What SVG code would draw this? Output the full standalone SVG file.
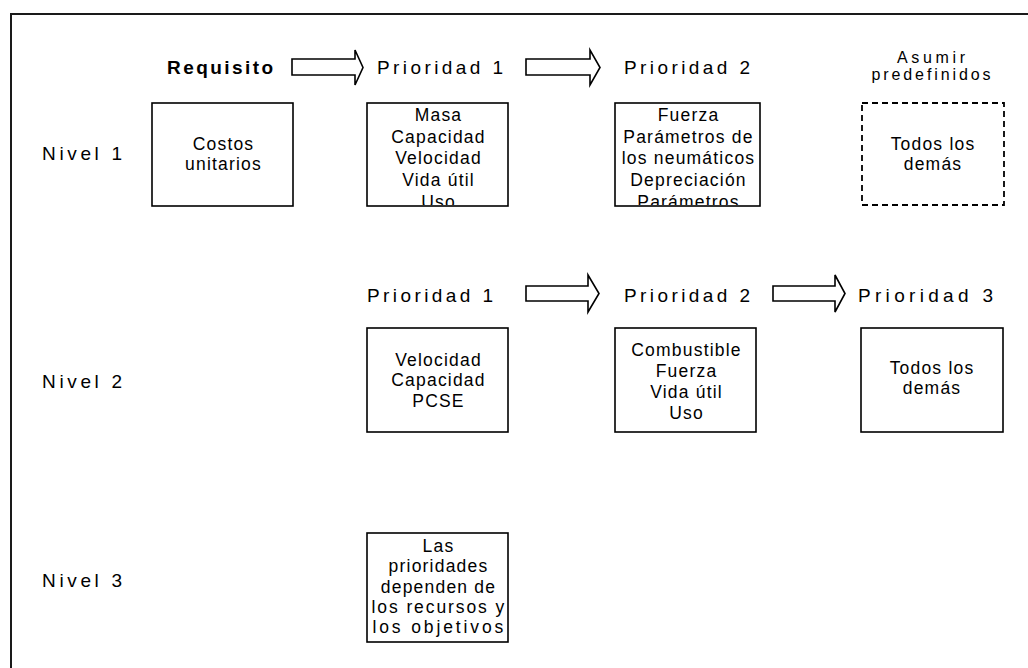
<svg xmlns="http://www.w3.org/2000/svg" width="1028" height="668" viewBox="0 0 1028 668">
  <defs>
    <style>
      .frame { fill: none; stroke: #1a1a1a; stroke-width: 2; }
      .box { fill: #fff; stroke: #000; stroke-width: 1.6; }
      .dashed { fill: #fff; stroke: #000; stroke-width: 1.8; stroke-dasharray: 6 4; }
      .arrow { fill: #fff; stroke: #000; stroke-width: 1.6; stroke-linejoin: miter; }
      .t { font-family: "Liberation Sans", Arial, sans-serif; fill: #000; }
      .body { font-size: 17.5px; letter-spacing: 1.2px; text-anchor: middle; }
      .head { font-size: 19px; }
      .lvl { font-size: 19px; }
      .small { font-size: 16px; text-anchor: middle; }
    </style>
    <clipPath id="clipB"><rect x="367" y="103" width="141" height="102"/></clipPath>
    <clipPath id="clipC"><rect x="615" y="103" width="145" height="102"/></clipPath>
  </defs>

  <rect width="1028" height="668" fill="#fff"/>
  <!-- outer frame, open to the right and bottom -->
  <rect class="frame" x="11" y="14" width="1100" height="720"/>

  <!-- row labels -->
  <g id="labels">
    <text class="t lvl" x="42" y="160" textLength="80" lengthAdjust="spacing">Nivel 1</text>
    <text class="t lvl" x="42" y="388" textLength="80" lengthAdjust="spacing">Nivel 2</text>
    <text class="t lvl" x="42" y="587" textLength="80" lengthAdjust="spacing">Nivel 3</text>
  </g>

  <!-- column headings -->
  <g id="headings">
    <text class="t head" x="167" y="74" font-weight="bold" font-size="18" textLength="106" lengthAdjust="spacing">Requisito</text>
    <text class="t head" x="377" y="74" textLength="126" lengthAdjust="spacing">Prioridad 1</text>
    <text class="t head" x="624" y="74" textLength="126" lengthAdjust="spacing">Prioridad 2</text>
    <text class="t small" x="931" y="63" textLength="68" lengthAdjust="spacing">Asumir</text>
    <text class="t small" x="931" y="80" textLength="119" lengthAdjust="spacing">predefinidos</text>
    <text class="t head" x="367" y="302" textLength="126" lengthAdjust="spacing">Prioridad 1</text>
    <text class="t head" x="624" y="302" textLength="126" lengthAdjust="spacing">Prioridad 2</text>
    <text class="t head" x="858" y="302" textLength="135" lengthAdjust="spacing">Prioridad 3</text>
  </g>

  <!-- block arrows between headings -->
  <g id="connectors">
    <path class="arrow" d="M292,59 H355 V50 L363,67.5 L355,85 V75 H292 Z"/>
    <path class="arrow" d="M526,59 H590 V50 L600,67.5 L590,85 V75 H526 Z"/>
    <path class="arrow" d="M526,286 H588 V275 L599,293.5 L588,312 V301 H526 Z"/>
    <path class="arrow" d="M773,286 H835 V275 L845,293.5 L835,312 V301 H773 Z"/>
  </g>

  <!-- Nivel 1 -->
  <g id="costos">
    <rect class="box" x="152" y="103" width="141" height="103"/>
    <text class="t body" x="223.5" y="150">Costos</text>
    <text class="t body" x="223.5" y="170">unitarios</text>
  </g>

  <g id="n1-prioridad1">
    <rect class="box" x="367" y="103" width="141" height="103"/>
    <g clip-path="url(#clipB)">
      <text class="t body" x="438.5" y="121">Masa</text>
      <text class="t body" x="438.5" y="142.5">Capacidad</text>
      <text class="t body" x="438.5" y="164">Velocidad</text>
      <text class="t body" x="438.5" y="185.5">Vida útil</text>
      <text class="t body" x="438.5" y="207.5">Uso</text>
    </g>
  </g>

  <g id="n1-prioridad2">
    <rect class="box" x="615" y="103" width="145" height="103"/>
    <g clip-path="url(#clipC)">
      <text class="t body" x="688.5" y="121">Fuerza</text>
      <text class="t body" x="688.5" y="142.5">Parámetros de</text>
      <text class="t body" x="688.5" y="164">los neumáticos</text>
      <text class="t body" x="688.5" y="185.5">Depreciación</text>
      <text class="t body" x="688.5" y="207.5">Parámetros</text>
    </g>
  </g>

  <g id="n1-predefinidos">
    <rect class="dashed" x="862" y="103" width="142" height="102"/>
    <text class="t body" x="933" y="150">Todos los</text>
    <text class="t body" x="933" y="170">demás</text>
  </g>

  <!-- Nivel 2 -->
  <g id="n2-prioridad1">
    <rect class="box" x="367" y="328" width="141" height="104"/>
    <text class="t body" x="438.5" y="365.5">Velocidad</text>
    <text class="t body" x="438.5" y="386">Capacidad</text>
    <text class="t body" x="438.5" y="407">PCSE</text>
  </g>

  <g id="n2-prioridad2">
    <rect class="box" x="615" y="328" width="141" height="104"/>
    <text class="t body" x="686.5" y="356">Combustible</text>
    <text class="t body" x="686.5" y="377">Fuerza</text>
    <text class="t body" x="686.5" y="398">Vida útil</text>
    <text class="t body" x="686.5" y="419">Uso</text>
  </g>

  <g id="n2-prioridad3">
    <rect class="box" x="861" y="328" width="142" height="104"/>
    <text class="t body" x="932" y="374">Todos los</text>
    <text class="t body" x="932" y="394">demás</text>
  </g>

  <!-- Nivel 3 -->
  <g id="n3">
    <rect class="box" x="367" y="533" width="141" height="109"/>
    <text class="t body" x="438.5" y="552">Las</text>
    <text class="t body" x="438.5" y="572">prioridades</text>
    <text class="t body" x="438.5" y="592.5">dependen de</text>
    <text class="t body" x="438.5" y="613" textLength="134" lengthAdjust="spacing">los recursos y</text>
    <text class="t body" x="438.5" y="633" textLength="132" lengthAdjust="spacing">los objetivos</text>
  </g>
</svg>
